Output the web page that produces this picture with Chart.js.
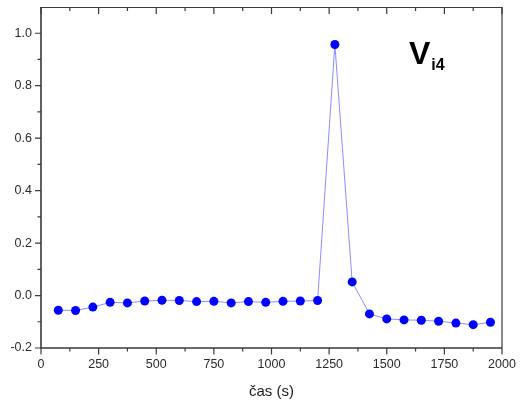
<!DOCTYPE html>
<html>
<head>
<meta charset="utf-8">
<script src="https://cdn.jsdelivr.net/npm/chart.js@4"></script>
<style>
  html, body { margin: 0; padding: 0; background: #ffffff; }
  #wrap { width: 526px; height: 405px; }
</style>
</head>
<body>
<div id="wrap"><canvas id="c" width="526" height="405"></canvas></div>
<script>
// Measurement times (s) and corresponding signal values
const times = [75, 150, 225, 300, 375, 450, 525, 600, 675, 750, 825, 900, 975,
               1050, 1125, 1200, 1275, 1350, 1425, 1500, 1575, 1650, 1725, 1800, 1875, 1950];
const values = [-0.056, -0.057, -0.044, -0.026, -0.028, -0.021, -0.018, -0.019, -0.023, -0.022,
                -0.028, -0.023, -0.026, -0.022, -0.021, -0.019, 0.957, 0.052, -0.070, -0.089,
                -0.093, -0.094, -0.098, -0.105, -0.111, -0.102];

// Major tick positions on both axes
const xTicks = [0, 250, 500, 750, 1000, 1250, 1500, 1750, 2000];
const yTicks = [-0.2, 0.0, 0.2, 0.4, 0.6, 0.8, 1.0];

const seriesLabel = 'V';
const seriesSub = 'i4';
const xTitle = 'čas (s)';

const FONT = '"Liberation Sans", Arial, Helvetica, sans-serif';
const AXIS = '#3a3a3a';

// Frame with outward ticks on left/bottom, inward ticks on top
const framePlugin = {
  id: 'frame',
  afterDatasetsDraw(chart) {
    const { ctx, chartArea: a, scales: { x, y } } = chart;
    ctx.save();
    ctx.strokeStyle = AXIS;
    ctx.lineCap = 'butt';

    // right and top edges
    ctx.lineWidth = 1.2;
    ctx.beginPath();
    ctx.moveTo(a.left, a.top + 0.5);
    ctx.lineTo(a.right, a.top + 0.5);
    ctx.moveTo(a.right, a.top);
    ctx.lineTo(a.right, a.bottom);
    ctx.stroke();

    // left and bottom axes
    ctx.lineWidth = 1.6;
    ctx.beginPath();
    ctx.moveTo(a.left, a.top);
    ctx.lineTo(a.left, a.bottom);
    ctx.moveTo(a.left - 0.8, a.bottom);
    ctx.lineTo(a.right, a.bottom);
    ctx.stroke();

    ctx.lineWidth = 1.2;
    ctx.beginPath();
    // x ticks: major + minor midpoints
    xTicks.forEach((v, i) => {
      const px = x.getPixelForValue(v);
      ctx.moveTo(px, a.bottom); ctx.lineTo(px, a.bottom + 6.5);
      ctx.moveTo(px, a.top); ctx.lineTo(px, a.top + 7);
      if (i < xTicks.length - 1) {
        const mx = x.getPixelForValue((v + xTicks[i + 1]) / 2);
        ctx.moveTo(mx, a.bottom); ctx.lineTo(mx, a.bottom + 3.5);
        ctx.moveTo(mx, a.top); ctx.lineTo(mx, a.top + 4);
      }
    });
    // y ticks: major + minor midpoints
    yTicks.forEach((v, i) => {
      const py = y.getPixelForValue(v);
      ctx.moveTo(a.left, py); ctx.lineTo(a.left - 6, py);
      const next = i < yTicks.length - 1 ? yTicks[i + 1] : v + 0.2;
      const mv = (v + next) / 2;
      if (mv < y.max) {
        const my = y.getPixelForValue(mv);
        ctx.moveTo(a.left, my); ctx.lineTo(a.left - 3.5, my);
      }
    });
    ctx.stroke();

    // series name with subscript
    ctx.fillStyle = '#000000';
    ctx.textBaseline = 'alphabetic';
    ctx.textAlign = 'left';
    ctx.font = 'bold 32px ' + FONT;
    ctx.fillText(seriesLabel, 409, 64);
    const w = ctx.measureText(seriesLabel).width;
    ctx.font = 'bold 16px ' + FONT;
    ctx.fillText(seriesSub, 409 + w + 1, 70);
    ctx.restore();
  }
};

new Chart(document.getElementById('c'), {
  type: 'line',
  data: {
    datasets: [{
      data: times.map((t, i) => ({ x: t, y: values[i] })),
      borderColor: '#8c8cff',
      borderWidth: 1,
      pointBackgroundColor: '#0000ff',
      pointBorderColor: '#0000ff',
      pointRadius: 4.5,
      pointBorderWidth: 0,
      tension: 0,
      clip: false
    }]
  },
  options: {
    responsive: false,
    animation: false,
    devicePixelRatio: 1,
    layout: { padding: { top: 7, right: 24, left: 0, bottom: 0 } },
    plugins: { legend: { display: false }, tooltip: { enabled: false } },
    scales: {
      x: {
        type: 'linear',
        min: 0,
        max: 2000,
        afterBuildTicks: (s) => { s.ticks = xTicks.map(v => ({ value: v })); },
        afterFit: (s) => { s.height = 57; s.paddingLeft = 0; s.paddingRight = 0; },
        grid: { display: false, drawTicks: false },
        border: { display: false },
        ticks: {
          autoSkip: false,
          maxRotation: 0,
          padding: 9,
          color: '#2a2a2a',
          font: { family: FONT, size: 12.5 },
          callback: (v) => String(v)
        },
        title: {
          display: true,
          text: xTitle,
          color: '#1a1a1a',
          font: { family: FONT, size: 15 },
          padding: { top: 0, bottom: 4 }
        }
      },
      y: {
        type: 'linear',
        min: -0.2,
        max: 1.1,
        afterBuildTicks: (s) => { s.ticks = yTicks.map(v => ({ value: v })); },
        afterFit: (s) => { s.width = 41; s.paddingTop = 0; s.paddingBottom = 0; },
        grid: { display: false, drawTicks: false },
        border: { display: false },
        ticks: {
          autoSkip: false,
          padding: 9,
          color: '#2a2a2a',
          font: { family: FONT, size: 12.5 },
          callback: (v) => Number(v).toFixed(1)
        }
      }
    }
  },
  plugins: [framePlugin]
});
</script>
</body>
</html>
